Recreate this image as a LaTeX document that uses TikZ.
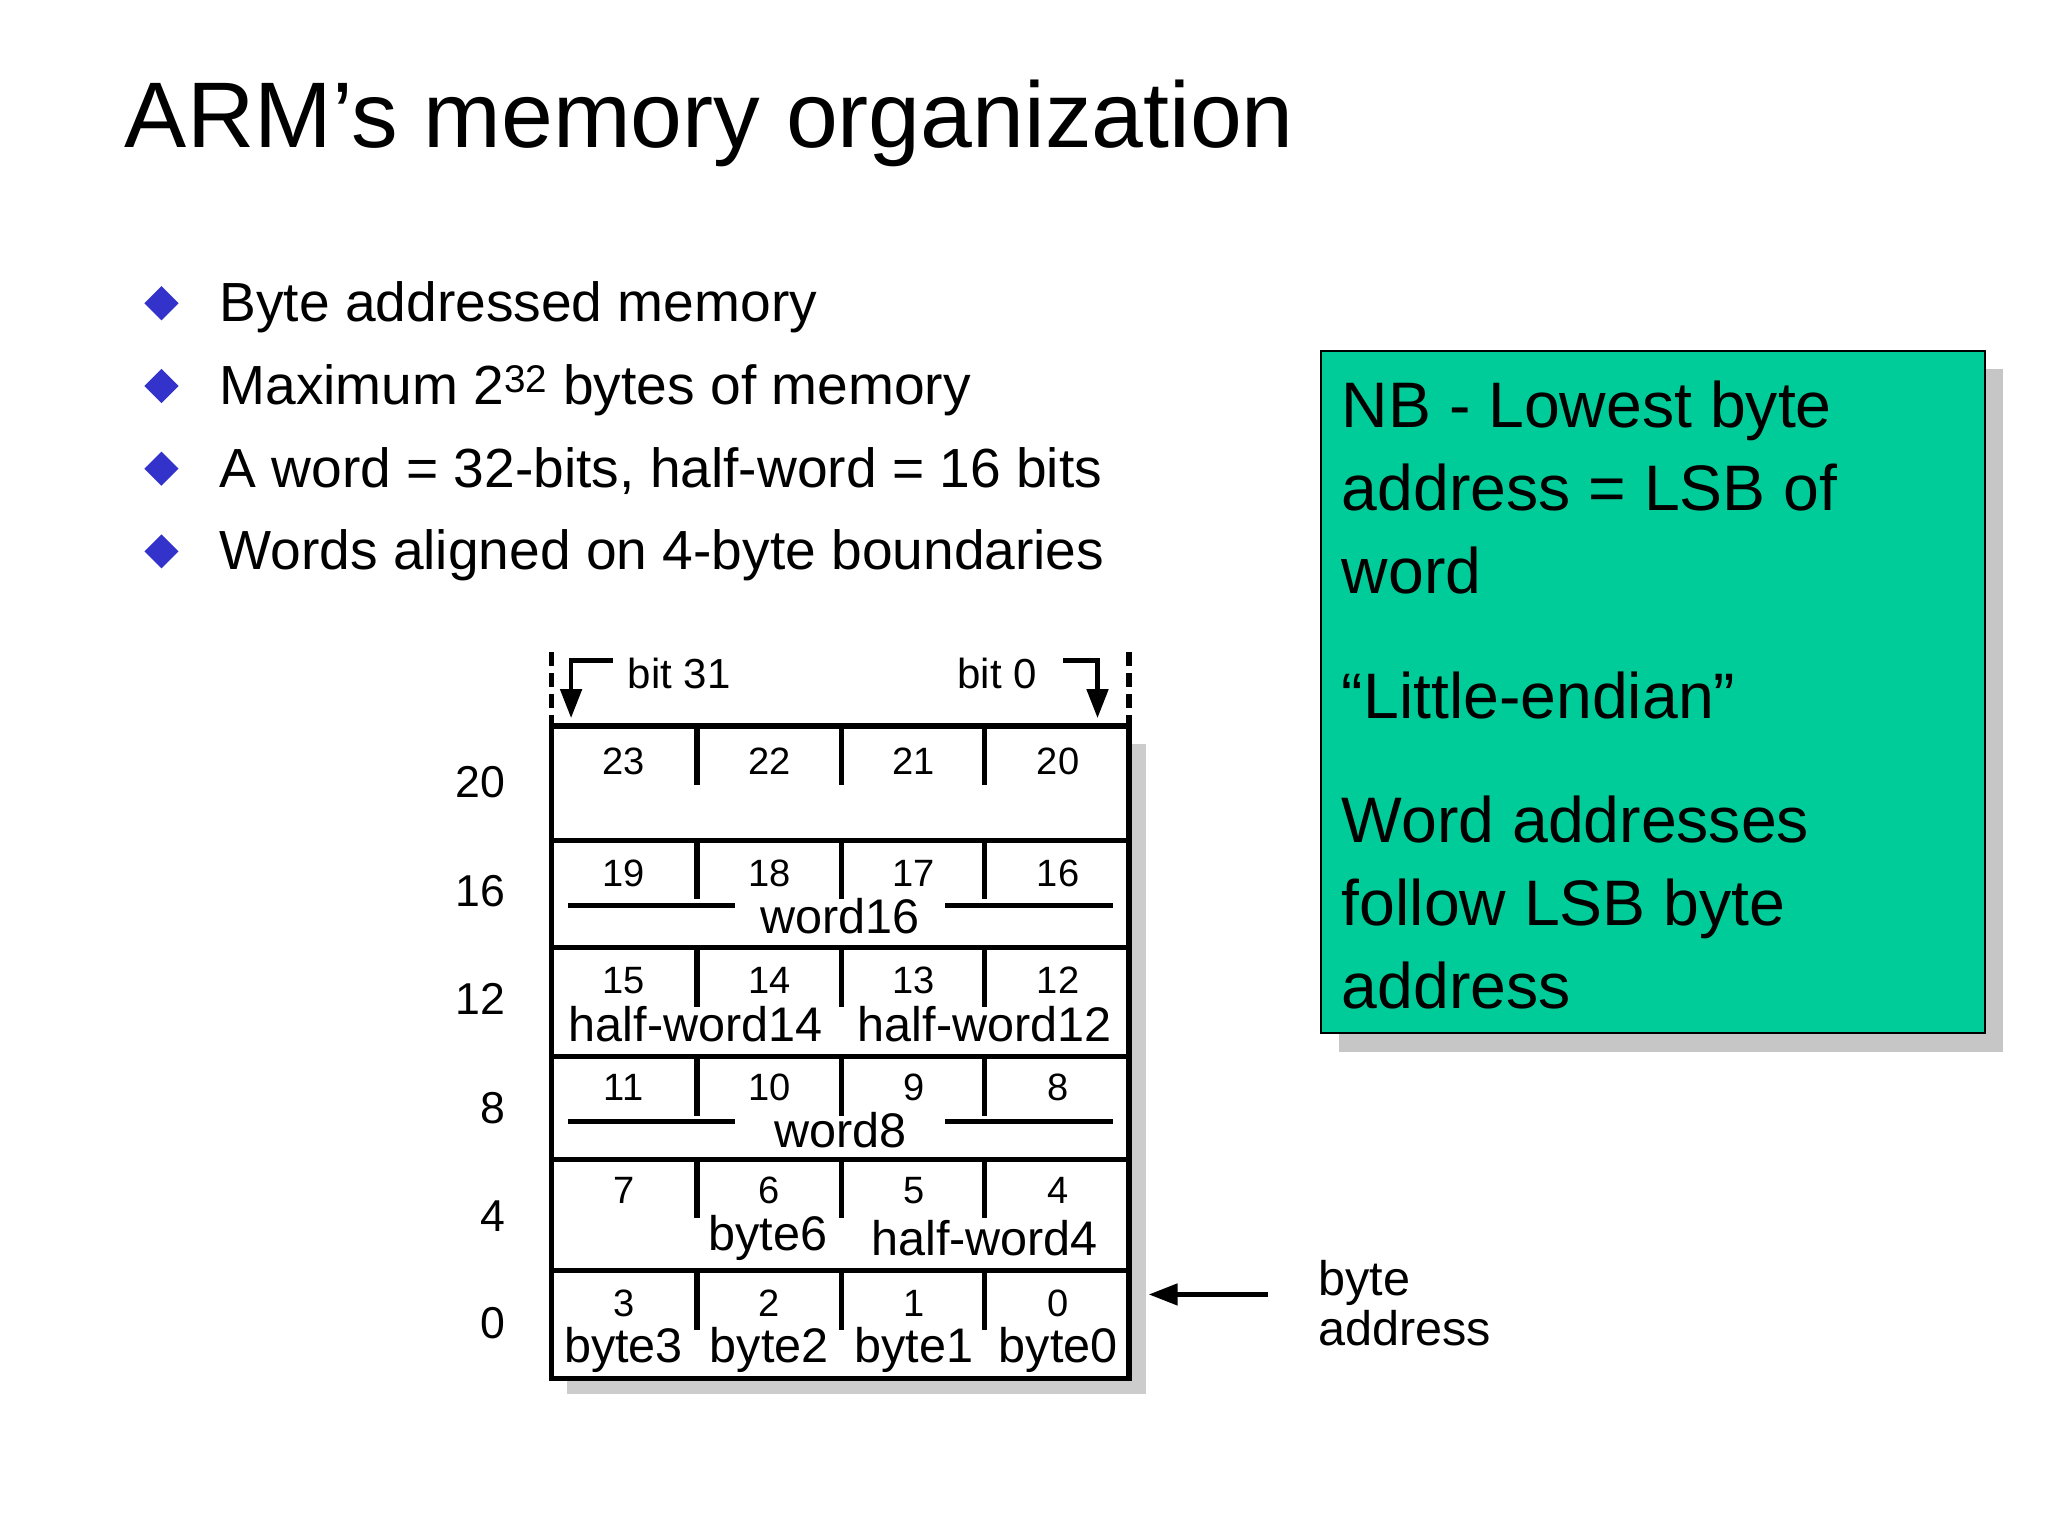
\documentclass[tikz,border=0pt]{standalone}
\usepackage{fontspec}
\setmainfont{Liberation Sans}
\usetikzlibrary{arrows.meta}
\begin{document}
\begin{tikzpicture}[x=1pt,y=-1pt,
  num/.style={font=\fontsize{29}{30}\selectfont, inner sep=0pt},
  lab/.style={font=\fontsize{37}{38}\selectfont, inner sep=0pt},
  bul/.style={font=\fontsize{42}{44}\selectfont, inner sep=0pt, anchor=base west},
  gt/.style={font=\fontsize{49}{50}\selectfont, inner sep=0pt, anchor=base west},
  dia/.style={fill=blue!75!black!80, draw=none},
  thick4/.style={line width=4pt},
  arr/.style={line width=3.5pt,-{Triangle[length=22pt,width=16pt]}}]
\useasboundingbox (0,0) rectangle (1560,1170);
% title
\node[font=\fontsize{71}{72}\selectfont, inner sep=0pt, anchor=base west] (title) at (95,112) {ARM's memory organization};
% bullets
\foreach \y/\t [count=\i] in {231/{Byte addressed memory},294/{Maximum 2\textsuperscript{32} bytes of memory},357/{A word = 32-bits, half-word = 16 bits},420/{Words aligned on 4-byte boundaries}}{
  \fill[dia] (123,\y-13) -- (136,\y) -- (123,\y+13) -- (110,\y) -- cycle;
  \node[bul] (b\i) at (167,\y+14) {\t};
}
% green box
\fill[gray!45] (1020,281) rectangle (1526,801);
\draw[fill={rgb,255:red,0;green,204;blue,153}, line width=1.5pt] (1006,267) rectangle (1512,787);
\node[gt] (g1) at (1022,326) {NB - Lowest byte};
\node[gt] (g2) at (1022,389) {address = LSB of};
\node[gt] (g3) at (1022,452) {word};
\node[gt] (g4) at (1022,547) {“Little-endian”};
\node[gt] (g5) at (1022,642) {Word addresses};
\node[gt] (g6) at (1022,705) {follow LSB byte};
\node[gt] (g7) at (1022,768) {address};
% memory box
\fill[gray!40] (432,567) rectangle (873,1062);
\fill[white] (420,553) rectangle (860,1050);
\draw[thick4] (420,553) rectangle (860,1050);
\foreach \y in {640,722,805,883,968}{\draw[thick4] (420,\y) -- (860,\y);}
\foreach \t in {553,640,722,805,883,968}{
  \foreach \x in {531,641,750}{\draw[thick4] (\x,\t) -- (\x,\t+45);}
}
% numbers
\foreach \y/\a/\b/\c/\d in {580/23/22/21/20,665/19/18/17/16,747/15/14/13/12,828/11/10/9/8,907/7/6/5/4,993/3/2/1/0}{
  \node[num] at (475,\y) {\a};
  \node[num] at (586,\y) {\b};
  \node[num] at (696,\y) {\c};
  \node[num] at (806,\y) {\d};
}
% labels
\draw[thick4] (433,690) -- (560,690); \draw[thick4] (720,690) -- (848,690);
\node[lab] (w16) at (640,698) {word16};
\draw[thick4] (433,854) -- (560,854); \draw[thick4] (720,854) -- (848,854);
\node[lab] (w8) at (640,861) {word8};
\node[lab] (hw14) at (530,780) {half-word14};
\node[lab] (hw12) at (750,780) {half-word12};
\node[lab] (by6) at (585,943) {byte6};
\node[lab] (hw4) at (750,943) {half-word4};
\foreach \x/\t in {475/byte3,586/byte2,696/byte1,806/byte0}{\node[lab] at (\x,1028) {\t};}
% addresses
\foreach \y/\t in {596/20,679/16,761/12,844/8,926/4,1008/0}{
  \node[lab, anchor=east, font=\fontsize{34}{35}\selectfont] at (385,\y) {\t};
}
% bit labels
\node[num, anchor=west, font=\fontsize{32}{33}\selectfont] (b31) at (478,513) {bit 31};
\node[num, anchor=west, font=\fontsize{32}{33}\selectfont] (b0) at (729,513) {bit 0};
\draw[line width=4pt, dash pattern=on 10pt off 6pt] (420,497) -- (420,553);
\draw[line width=4pt, dash pattern=on 10pt off 6pt] (860,497) -- (860,553);
\coordinate (l1) at (467,503); \coordinate (l2) at (435,503); \coordinate (l3) at (435,547);
\coordinate (r1) at (810,503); \coordinate (r2) at (836,503); \coordinate (r3) at (836,547);
\draw[arr] (l1) -- (l2) -- (l3);
\draw[arr] (r1) -- (r2) -- (r3);
% byte address
\coordinate (ba1) at (966,986); \coordinate (ba2) at (875,986);
\draw[arr] (ba1) -- (ba2);
\node[lab, anchor=base west] (byt) at (1004,987) {byte};
\node[lab, anchor=base west] (addr) at (1004,1025) {address};
\end{tikzpicture}
\end{document}
